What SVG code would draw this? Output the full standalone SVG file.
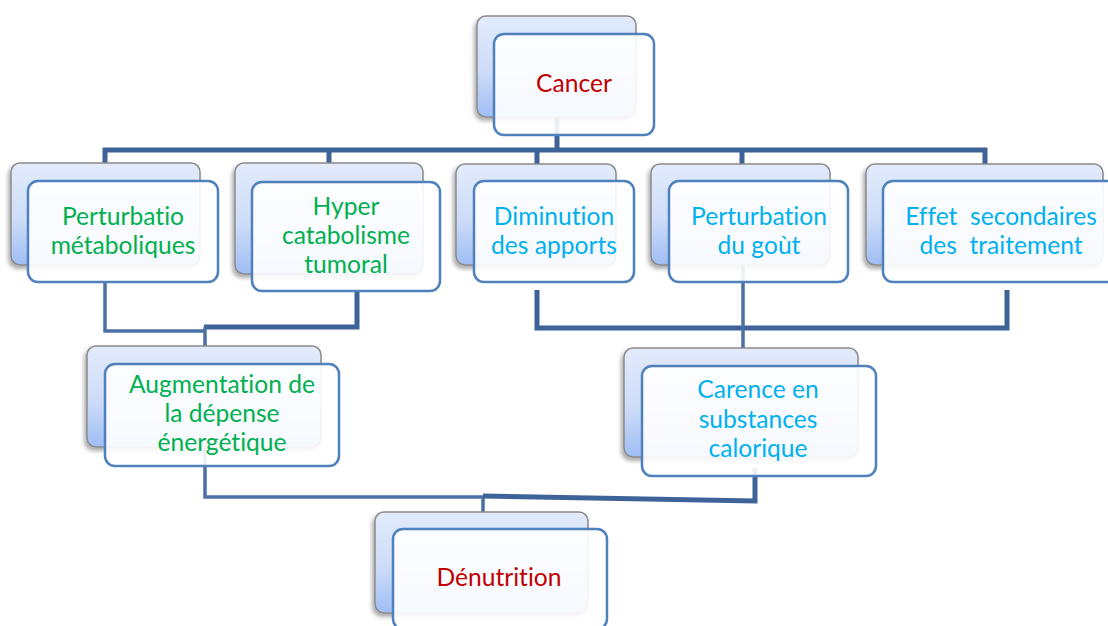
<svg xmlns="http://www.w3.org/2000/svg" width="1108" height="626" viewBox="0 0 1108 626">
<defs>
<linearGradient id="bg" x1="0" y1="0" x2="0" y2="1">
<stop offset="0" stop-color="#e2ebfb"/>
<stop offset="0.55" stop-color="#cddcf8"/>
<stop offset="1" stop-color="#9fbdf4"/>
</linearGradient>
<filter id="sh" x="-10%" y="-10%" width="125%" height="130%">
<feDropShadow dx="-2" dy="3" stdDeviation="2" flood-color="#000" flood-opacity="0.35"/>
</filter>
</defs>
<style>
.back{fill:url(#bg);stroke:#8a8a8a;stroke-width:1.5;filter:url(#sh)}
.front{fill:#ffffff;fill-opacity:0.9;stroke:#4f81bd;stroke-width:2.5}
.ln{fill:none;stroke:#3d6398;stroke-width:5;stroke-linejoin:miter}
.thin{fill:none;stroke:#4a70a6;stroke-width:3.5}
text{font-family:Lato,"Open Sans","Liberation Sans",sans-serif;font-size:24.6px;text-anchor:middle;font-variant-ligatures:none}
.red{fill:#c00000}
.green{fill:#00b050}
.cyan{fill:#00b0f0}
</style>
<rect width="1108" height="626" fill="#ffffff"/>
<g id="connectors">
<path class="ln" d="M557 117 V150"/>
<path class="ln" d="M105 164 V150 H985 V164"/>
<path class="ln" d="M329 150 V164"/>
<path class="ln" d="M537 150 V165"/>
<path class="ln" d="M742 150 V165"/>
<path class="thin" d="M105 282 V331 H205"/>
<path class="ln" d="M357 291 V327 H204"/>
<path class="thin" d="M205 327 V347"/>
<path class="ln" d="M537 290 V328 H1007 V290"/>
<path class="thin" d="M743 265 V349"/>
<path class="thin" d="M205 447 V497 H483 V513"/>
<path class="ln" d="M483 496 L755 501 V468"/>
</g>
<g id="node-cancer">
<rect class="back" x="477" y="16" width="159" height="101" rx="9"/>
<rect class="front" x="494" y="34" width="160" height="101" rx="10"/>
<text class="red" x="574" y="92">Cancer</text>
</g>
<g id="node-perturbatio">
<rect class="back" x="11" y="163" width="189" height="102" rx="9"/>
<rect class="front" x="28" y="181" width="190" height="101" rx="10"/>
<text class="green" x="123" y="225">Perturbatio</text>
<text class="green" x="123" y="254">métaboliques</text>
</g>
<g id="node-hyper">
<rect class="back" x="235" y="163" width="188" height="111" rx="9"/>
<rect class="front" x="252" y="182" width="188" height="109" rx="10"/>
<text class="green" x="346" y="215">Hyper</text>
<text class="green" x="346" y="244">catabolisme</text>
<text class="green" x="346" y="273">tumoral</text>
</g>
<g id="node-diminution">
<rect class="back" x="456" y="164" width="160" height="101" rx="9"/>
<rect class="front" x="474" y="181" width="160" height="101" rx="10"/>
<text class="cyan" x="554" y="225">Diminution</text>
<text class="cyan" x="554" y="254">des apports</text>
</g>
<g id="node-gout">
<rect class="back" x="651" y="164" width="179" height="101" rx="9"/>
<rect class="front" x="669" y="181" width="179" height="101" rx="10"/>
<text class="cyan" x="759" y="225">Perturbation</text>
<text class="cyan" x="759" y="254">du goùt</text>
</g>
<g id="node-effet">
<rect class="back" x="866" y="164" width="237" height="101" rx="9"/>
<rect class="front" x="883" y="181" width="237" height="101" rx="10"/>
<text class="cyan" x="1001" y="225" xml:space="preserve">Effet  secondaires</text>
<text class="cyan" x="1001" y="254" xml:space="preserve">des  traitement</text>
</g>
<g id="node-augmentation">
<rect class="back" x="87" y="346" width="234" height="101" rx="9"/>
<rect class="front" x="105" y="364" width="234" height="102" rx="10"/>
<text class="green" x="222" y="393">Augmentation de</text>
<text class="green" x="222" y="422">la dépense</text>
<text class="green" x="222" y="451">énergétique</text>
</g>
<g id="node-carence">
<rect class="back" x="624" y="348" width="234" height="109" rx="9"/>
<rect class="front" x="642" y="366" width="234" height="110" rx="10"/>
<text class="cyan" x="758" y="398">Carence en</text>
<text class="cyan" x="758" y="428">substances</text>
<text class="cyan" x="758" y="457">calorique</text>
</g>
<g id="node-denutrition">
<rect class="back" x="375" y="512" width="213" height="101" rx="9"/>
<rect class="front" x="393" y="529" width="214" height="100" rx="10"/>
<text class="red" x="499" y="586">Dénutrition</text>
</g>
</svg>
